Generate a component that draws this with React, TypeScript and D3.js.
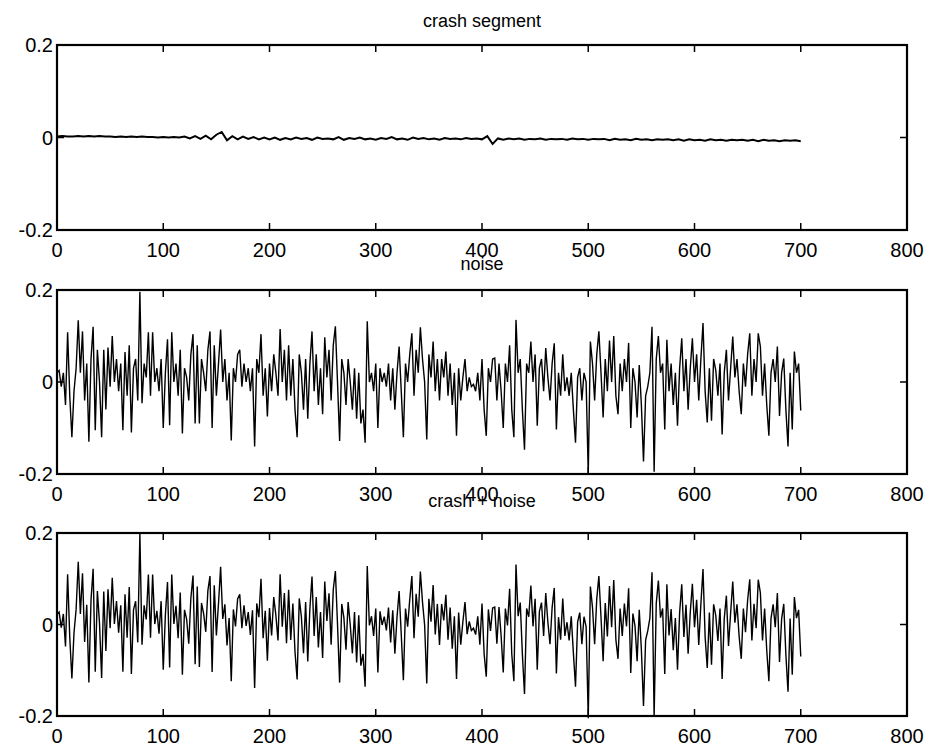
import React from "react";
import * as d3 from "d3";

// axis ticks
const xTicks = [0, 100, 200, 300, 400, 500, 600, 700, 800];
const yTicks = [-0.2, 0, 0.2];
const yTickLabels = ["-0.2", "0", "0.2"];
const titles = ["crash segment", "noise", "crash + noise"];

// crash segment, one value every 5 samples (0..700)
const crashStep = 5;
const crash = [
  0.002, 0.003, 0.002, 0.002, 0.003, 0.002, 0.003, 0.002, 0.003, 0.002,
  0.002, 0.001, 0.002, 0.001, 0.002, 0.001, 0.002, 0.001, 0.001, 0.0,
  0.001, 0.0, 0.001, 0.0,
  0.002, -0.002, 0.003, -0.003, 0.004, -0.004, 0.006, 0.012, -0.006, 0.003,
  -0.004, 0.002, -0.003, 0.001, -0.004, 0.0,
  -0.004, 0.0, -0.005, -0.001, -0.004, 0.0, -0.003, -0.001, -0.005, 0.0,
  -0.003, -0.002, -0.004, 0.001, -0.005, -0.001, -0.003, 0.0, -0.004, -0.002,
  -0.005, -0.001, -0.003, 0.001, -0.004, -0.002, -0.005, 0.0, -0.003, -0.001,
  -0.004, -0.002, -0.005, -0.001, -0.003, -0.002, -0.004, -0.001, -0.003, -0.002,
  -0.004, 0.003, -0.014, -0.002,
  -0.005, -0.002, -0.004, -0.002, -0.005, -0.003, -0.004, -0.002, -0.005, -0.003,
  -0.004, -0.003, -0.005, -0.002, -0.004, -0.003, -0.005, -0.003, -0.004, -0.003,
  -0.006, -0.003, -0.005, -0.004, -0.006, -0.003, -0.005, -0.004, -0.006, -0.004,
  -0.005, -0.004, -0.006, -0.004, -0.007, -0.004, -0.006, -0.005, -0.007, -0.004,
  -0.006, -0.005, -0.007, -0.005, -0.006, -0.005, -0.007, -0.005, -0.008, -0.005,
  -0.007, -0.006, -0.008, -0.006, -0.007, -0.006, -0.008,
];

// noise, one value every 2 samples (0..700)
const noiseStep = 2;
const noise = [
  0.02, 0.025, -0.01, 0.02, -0.05, 0.108, -0.03, -0.12, -0.02, 0.03,
  0.134, 0.02, 0.11, -0.04, 0.04, -0.13, 0.05, 0.12, -0.105, 0.07,
  0.0, -0.12, 0.07, -0.06, 0.075, -0.01, 0.1, 0.0, 0.05, -0.02,
  0.04, -0.105, 0.065, -0.03, 0.08, -0.11, 0.03, 0.05, -0.04, 0.196,
  -0.046, 0.04, 0.01, 0.108, -0.03, 0.108, 0.0, 0.03, -0.02, 0.05,
  -0.1, 0.02, 0.093, -0.094, 0.108, 0.0, 0.04, -0.03, 0.07, -0.112,
  0.03, 0.01, -0.04, 0.06, 0.104, -0.09, 0.08, -0.09, 0.05, 0.02,
  -0.02, 0.07, 0.11, -0.1, 0.08, -0.03, 0.04, 0.114, 0.0, 0.05,
  -0.04, 0.02, -0.127, 0.03, 0.0, 0.06, 0.07, -0.01, 0.04, 0.0,
  0.03, -0.02, 0.03, -0.14, 0.05, 0.02, 0.104, -0.03, 0.03, -0.075,
  0.04, -0.02, 0.06, 0.02, -0.03, 0.115, 0.0, 0.07, -0.04, 0.08,
  -0.03, 0.05, -0.06, -0.12, 0.06, 0.02, -0.06, 0.05, -0.08, 0.04,
  0.11, -0.02, 0.06, -0.05, 0.03, -0.07, 0.097, 0.01, 0.07, -0.04,
  0.08, 0.121, 0.0, -0.128, 0.05, 0.02, -0.05, 0.05, 0.0, -0.06,
  0.03, -0.08, 0.02, -0.09, -0.06, -0.132, 0.132, 0.0, 0.02, -0.02,
  0.04, -0.1, 0.03, 0.0, 0.02, -0.01, 0.04, -0.04, 0.03, -0.06,
  0.02, 0.077, -0.02, -0.12, 0.04, 0.0, 0.06, 0.106, -0.03, 0.07,
  0.02, 0.119, 0.05, 0.0, -0.125, 0.06, 0.01, 0.088, -0.02, 0.05,
  -0.04, 0.05, 0.01, 0.066, -0.03, 0.04, -0.05, 0.02, -0.117, 0.03,
  -0.04, 0.01, 0.05, -0.02, 0.01, -0.01, -0.005, -0.02, 0.02, -0.04,
  0.05, -0.06, -0.117, 0.03, 0.0, 0.05, 0.052, -0.04, 0.04, -0.02,
  -0.1, 0.04, 0.0, 0.08, -0.06, -0.12, 0.135, 0.02, 0.05, -0.06,
  -0.147, 0.04, 0.02, 0.088, 0.0, 0.06, -0.095, 0.03, 0.05, -0.02,
  0.074, 0.01, -0.04, 0.04, 0.084, -0.103, 0.02, -0.03, 0.06, -0.02,
  0.01, -0.03, 0.02, -0.06, -0.132, 0.01, 0.03, -0.04, 0.02, 0.0,
  -0.2, 0.088, 0.04, -0.04, 0.06, 0.11, 0.02, -0.077, 0.05, -0.02,
  0.09, 0.0, 0.1, -0.03, -0.07, 0.04, -0.02, 0.05, 0.0, 0.085,
  -0.1, 0.03, 0.0, -0.077, 0.037, -0.05, -0.173, -0.03, -0.01, 0.02,
  0.12, -0.195, 0.05, 0.1, 0.02, 0.04, -0.103, 0.092, -0.02, 0.04,
  -0.05, 0.02, -0.095, 0.03, 0.095, -0.02, 0.05, -0.06, 0.03, 0.095,
  0.0, 0.06, -0.04, 0.05, 0.128, -0.02, -0.088, 0.03, -0.084, 0.05,
  0.026, -0.03, 0.04, -0.114, 0.02, 0.07, -0.04, 0.03, 0.099, 0.01,
  0.05, -0.02, -0.07, 0.04, -0.01, 0.06, 0.106, -0.03, 0.05, 0.0,
  0.106, 0.077, -0.03, 0.04, -0.05, -0.117, 0.02, 0.05, 0.0, 0.077,
  -0.074, 0.02, 0.051, -0.06, -0.14, 0.02, -0.103, 0.066, 0.02, 0.04,
  -0.062,
];

type Pt = [number, number];

const crashPts: Pt[] = crash.map((v, i) => [i * crashStep, v]);
const noisePts: Pt[] = noise.map((v, i) => [i * noiseStep, v]);
// crash + noise: noise plus the nearest crash sample
const sumPts: Pt[] = noise.map((v, i) => {
  const x = i * noiseStep;
  const c = crash[Math.min(crash.length - 1, Math.round(x / crashStep))];
  return [x, v + c];
});

const W = 930;
const H = 754;
const LEFT = 57;
const RIGHT = 907;
const FONT = "'Liberation Sans', Arial, Helvetica, sans-serif";

const panels = [
  { top: 45, bottom: 230, titleY: 27, data: crashPts, lw: 2 },
  { top: 290, bottom: 474, titleY: 270, data: noisePts, lw: 1.4 },
  { top: 533, bottom: 716, titleY: 507, data: sumPts, lw: 1.4 },
];

const x = d3.scaleLinear().domain([0, 800]).range([LEFT, RIGHT]);

const Panel = ({ p, title }: { p: (typeof panels)[number]; title: string }) => {
  const y = d3.scaleLinear().domain([-0.2, 0.2]).range([p.bottom, p.top]);
  const line = d3
    .line<Pt>()
    .x((d) => x(d[0]))
    .y((d) => y(d[1]));
  const tk = 7;
  return (
    <g>
      <text
        x={(LEFT + RIGHT) / 2}
        y={p.titleY}
        textAnchor="middle"
        fontSize={18}
        fontFamily={FONT}
      >
        {title}
      </text>
      <path d={line(p.data) || ""} fill="none" stroke="#000" strokeWidth={p.lw} />
      <rect
        x={LEFT}
        y={p.top}
        width={RIGHT - LEFT}
        height={p.bottom - p.top}
        fill="none"
        stroke="#000"
        strokeWidth={2.2}
      />
      {xTicks.slice(1, -1).map((t) => (
        <g key={t}>
          <line x1={x(t)} x2={x(t)} y1={p.top} y2={p.top + tk} stroke="#000" strokeWidth={1.5} />
          <line x1={x(t)} x2={x(t)} y1={p.bottom} y2={p.bottom - tk} stroke="#000" strokeWidth={1.5} />
        </g>
      ))}
      <line x1={LEFT} x2={LEFT + tk} y1={y(0)} y2={y(0)} stroke="#000" strokeWidth={1.5} />
      <line x1={RIGHT} x2={RIGHT - tk} y1={y(0)} y2={y(0)} stroke="#000" strokeWidth={1.5} />
      {xTicks.map((t) => (
        <text
          key={t}
          x={x(t)}
          y={p.bottom + 27}
          textAnchor="middle"
          fontSize={20}
          fontFamily={FONT}
        >
          {t}
        </text>
      ))}
      {yTicks.map((t, i) => (
        <text
          key={t}
          x={LEFT - 4}
          y={y(t)}
          dy="0.35em"
          textAnchor="end"
          fontSize={20}
          fontFamily={FONT}
        >
          {yTickLabels[i]}
        </text>
      ))}
    </g>
  );
};

export default function App() {
  return (
    <svg
      width={W}
      height={H}
      viewBox={`0 0 ${W} ${H}`}
      style={{ position: "absolute", left: 0, top: 0, background: "#fff" }}
    >
      <rect width={W} height={H} fill="#fff" />
      {panels.map((p, i) => (
        <Panel key={i} p={p} title={titles[i]} />
      ))}
    </svg>
  );
}
